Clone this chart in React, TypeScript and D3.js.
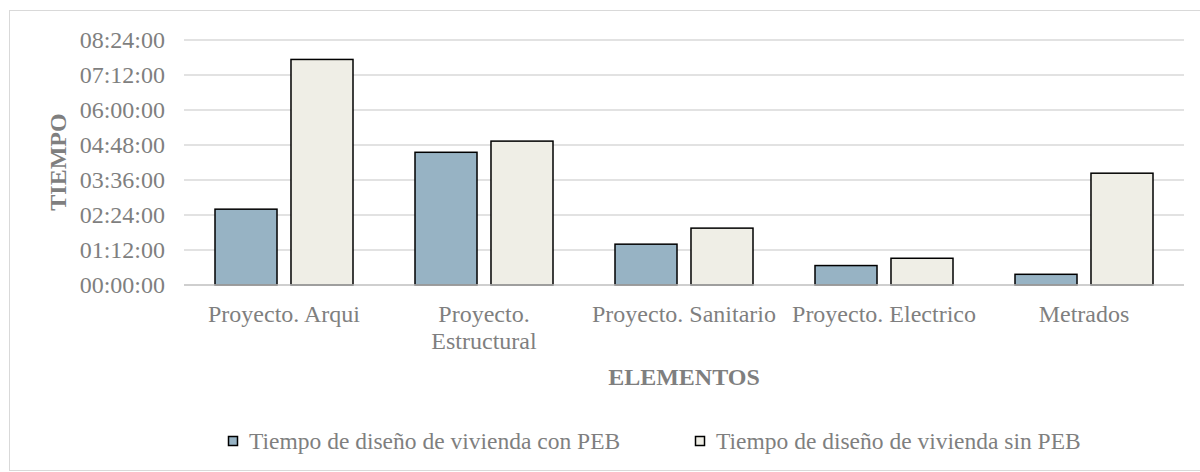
import React from "react";
import * as d3 from "d3";

const categories: string[][] = [
  ["Proyecto. Arqui"],
  ["Proyecto.", "Estructural"],
  ["Proyecto. Sanitario"],
  ["Proyecto. Electrico"],
  ["Metrados"],
];
// minutes
const conPEB: number[] = [156, 273, 84, 40, 22];
const sinPEB: number[] = [464, 296, 117, 55, 230];
const seriesNames: string[] = [
  "Tiempo de diseño de vivienda con PEB",
  "Tiempo de diseño de vivienda sin PEB",
];
const seriesColors: string[] = ["#97b3c4", "#efeee6"];
const yTicks: number[] = [0, 72, 144, 216, 288, 360, 432, 504];

const fmt = (m: number) => {
  const h = Math.floor(m / 60);
  const mm = m % 60;
  return `${String(h).padStart(2, "0")}:${String(mm).padStart(2, "0")}:00`;
};

export default function App() {
  const W = 1200;
  const H = 472;
  const left = 184;
  const right = 1184;
  const top = 40;
  const bottom = 285;
  const font = "'Liberation Serif', 'Times New Roman', serif";
  const fs = 24;
  const grey = "#7f7f7f";

  const x = d3
    .scaleBand<number>()
    .domain(d3.range(categories.length))
    .range([left, right])
    .paddingInner(0.31)
    .paddingOuter(0.155);
  const x1 = d3
    .scaleBand<number>()
    .domain([0, 1])
    .range([0, x.bandwidth()])
    .paddingInner(0.184);
  const y = d3.scaleLinear().domain([0, 504]).range([bottom, top]);

  const series = [conPEB, sinPEB];

  return (
    <svg
      width={W}
      height={H}
      style={{ position: "absolute", left: 0, top: 0, background: "#fff" }}
      fontFamily={font}
    >
      <rect x={9.5} y={10.5} width={1200} height={460} fill="#fff" stroke="#d9d9d9" strokeWidth={1} />
      {yTicks.map((t) => (
        <g key={t}>
          {t > 0 && (
            <line x1={left} x2={right} y1={y(t)} y2={y(t)} stroke="#d9d9d9" strokeWidth={1.5} />
          )}
          <text
            x={165}
            y={y(t)}
            dy="0.35em"
            textAnchor="end"
            fontSize={fs}
            fill={grey}
          >
            {fmt(t)}
          </text>
        </g>
      ))}
      {series.map((vals, si) =>
        vals.map((v, i) => {
          const bx = (x(i) as number) + (x1(si) as number);
          return (
            <rect
              key={`${si}-${i}`}
              x={bx}
              y={y(v)}
              width={x1.bandwidth()}
              height={y(0) - y(v)}
              fill={seriesColors[si]}
              stroke="#000"
              strokeWidth={1.5}
            />
          );
        })
      )}
      <line x1={left} x2={right} y1={bottom} y2={bottom} stroke="#bfbfbf" strokeWidth={1.5} />
      {categories.map((lines, i) => (
        <text
          key={i}
          x={(x(i) as number) + x.bandwidth() / 2}
          y={322}
          textAnchor="middle"
          fontSize={fs}
          fill={grey}
        >
          {lines.map((l, j) => (
            <tspan key={j} x={(x(i) as number) + x.bandwidth() / 2} dy={j === 0 ? 0 : 27}>
              {l}
            </tspan>
          ))}
        </text>
      ))}
      <text
        x={684}
        y={385}
        textAnchor="middle"
        fontSize={fs}
        fontWeight="bold"
        fill={grey}
      >
        ELEMENTOS
      </text>
      <text
        transform={`translate(66,162) rotate(-90)`}
        textAnchor="middle"
        fontSize={fs}
        fontWeight="bold"
        fill={grey}
      >
        TIEMPO
      </text>
      {seriesNames.map((name, si) => {
        const lx = si === 0 ? 228 : 695;
        return (
          <g key={si}>
            <rect x={lx + 0.5} y={436.5} width={9} height={9} fill={seriesColors[si]} stroke="#000" strokeWidth={1.5} />
            <text x={lx + 21} y={449} fontSize={23.5} fill={grey}>
              {name}
            </text>
          </g>
        );
      })}
    </svg>
  );
}
